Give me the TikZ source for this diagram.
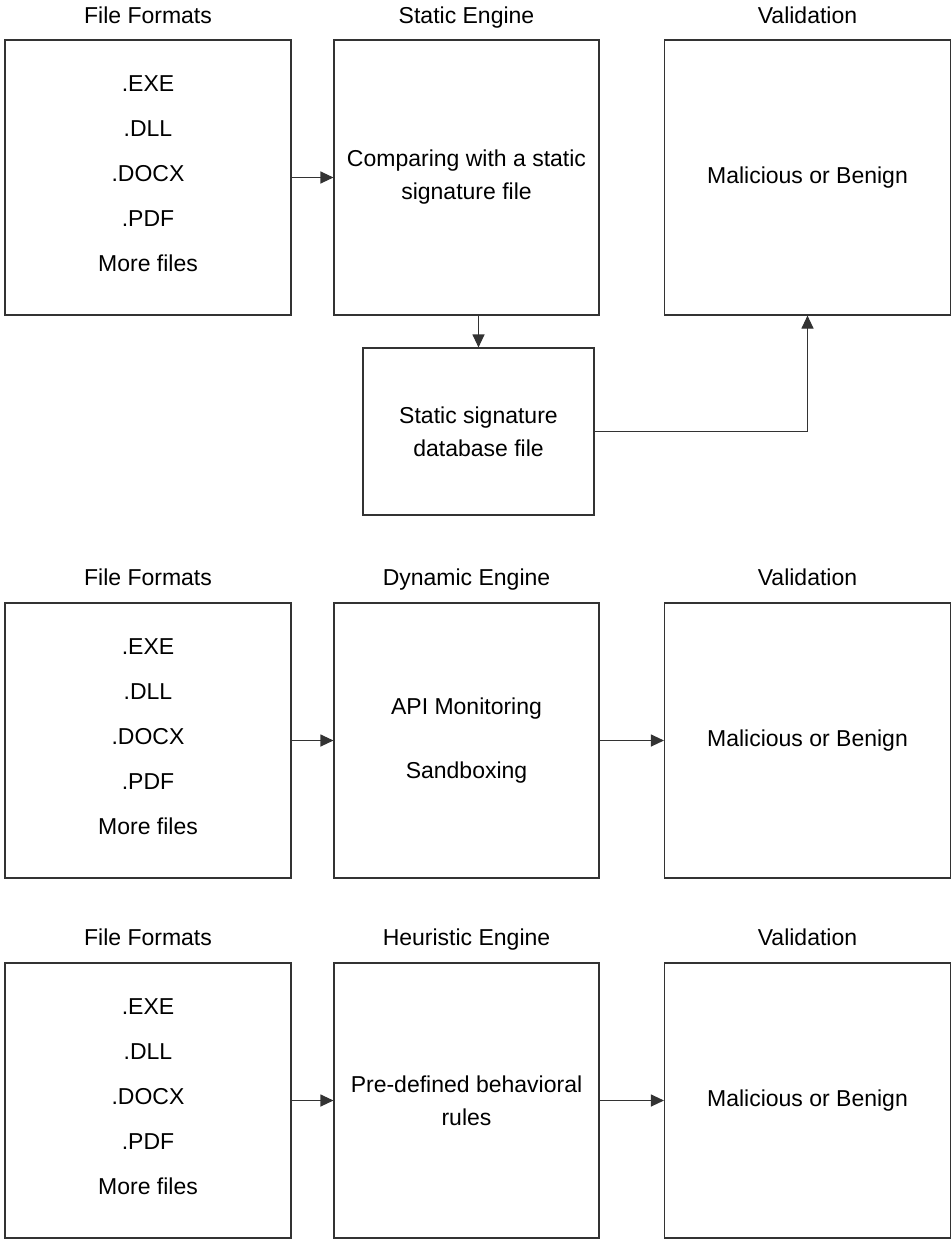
\documentclass[tikz,border=0pt]{standalone}
\usepackage{fontspec}
\setmainfont{Liberation Sans}
\usetikzlibrary{arrows.meta}
\begin{document}
\begin{tikzpicture}[x=1pt,y=-1pt,
  box/.style={draw=black!80, line width=1.1pt, inner sep=0pt, align=center,
    font=\fontsize{23}{33}\selectfont},
  wide/.style={box, minimum width=286pt, minimum height=275pt},
  mid/.style={box, minimum width=265pt, minimum height=275pt},
  list/.style={font=\fontsize{23}{45}\selectfont},
  title/.style={font=\fontsize{23}{28}\selectfont, inner sep=0pt, anchor=base},
  arr/.style={-{Triangle[length=13pt,width=12pt]}, line width=1.1pt, draw=black!80}]
\useasboundingbox (0,0) rectangle (951,1239);

% ---- static engine row ----
\node[title] (t1a) at (148,24) {File Formats};
\node[title] (t1b) at (466.5,24) {Static Engine};
\node[title] (t1c) at (807.5,24) {Validation};
\node[wide] (ff1) at (148,177.5) {};
\node[list, align=center, inner sep=0pt] (ff1t) at (148,173.5) {.EXE\\.DLL\\.DOCX\\.PDF\\More files};
\node[mid] (se) at (466.5,177.5) {Comparing with a static\\signature file};
\node[wide] (val1) at (807.5,177.5) {Malicious or Benign};
\node[box, minimum width=231pt, minimum height=167pt] (db) at (478.5,431.5)
  {\raisebox{-3pt}{\parbox{200pt}{\centering Static signature\\database file}}};
\draw[arr] (ff1) -- (se);
\draw[arr] (db.north |- se.south) -- (db.north);
\draw[arr] (db.east) -| (val1.south);

% ---- dynamic engine row ----
\node[title] (t2a) at (148,585) {File Formats};
\node[title] (t2b) at (466.5,585) {Dynamic Engine};
\node[title] (t2c) at (807.5,585) {Validation};
\node[wide] (ff2) at (148,740.5) {};
\node[list, align=center, inner sep=0pt] (ff2t) at (148,736.5) {.EXE\\.DLL\\.DOCX\\.PDF\\More files};
\node[mid, font=\fontsize{23}{64}\selectfont] (de) at (466.5,740.5) {API Monitoring\\Sandboxing};
\node[wide] (val2) at (807.5,740.5) {Malicious or Benign};
\draw[arr] (ff2) -- (de);
\draw[arr] (de) -- (val2);

% ---- heuristic engine row ----
\node[title] (t3a) at (148,945) {File Formats};
\node[title] (t3b) at (466.5,945) {Heuristic Engine};
\node[title] (t3c) at (807.5,945) {Validation};
\node[wide] (ff3) at (148,1100.5) {};
\node[list, align=center, inner sep=0pt] (ff3t) at (148,1096.5) {.EXE\\.DLL\\.DOCX\\.PDF\\More files};
\node[mid] (he) at (466.5,1100.5) {Pre-defined behavioral\\rules};
\node[wide] (val3) at (807.5,1100.5) {Malicious or Benign};
\draw[arr] (ff3) -- (he);
\draw[arr] (he) -- (val3);
\end{tikzpicture}
\end{document}
